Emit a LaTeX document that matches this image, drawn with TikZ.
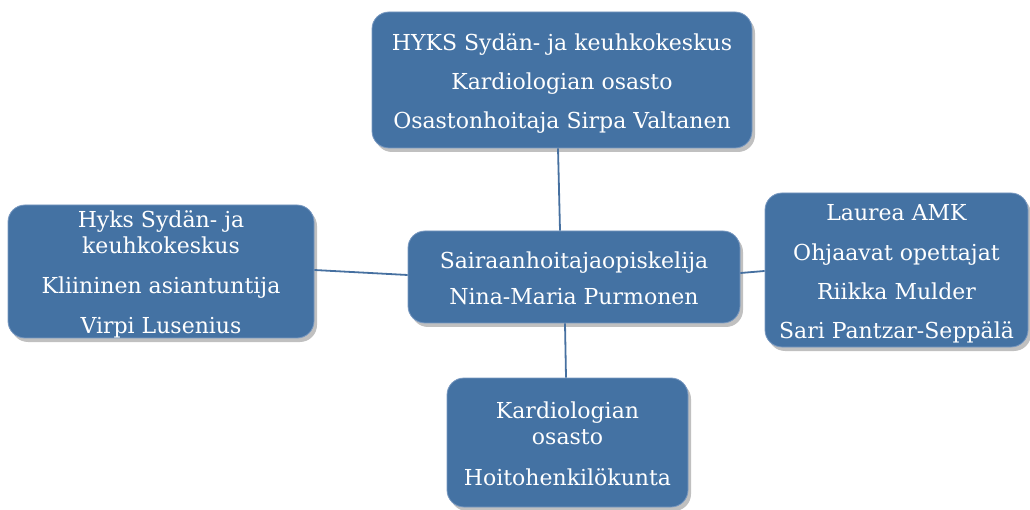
\documentclass[tikz,border=0pt]{standalone}
\usepackage{fontspec}
\setmainfont{DejaVu Serif}
\usetikzlibrary{shadows}
\definecolor{boxblue}{RGB}{68,114,163}
\definecolor{boxedge}{RGB}{120,152,192}
\definecolor{lineblue}{RGB}{70,112,160}
\newcommand\boxlines[1]{\raisebox{0pt}[\dimexpr\height+4pt\relax][\dimexpr\depth-4pt\relax]{\begin{tabular}{@{}c@{}}#1\end{tabular}}}
\tikzset{
  orgbox/.style={rectangle, rounded corners=17pt, fill=boxblue, draw=boxedge, line width=0.8pt,
    text=white, align=center, inner sep=0pt, font=\fontsize{22}{26}\selectfont,
    drop shadow={shadow xshift=3pt, shadow yshift=-4pt, fill=black!55, opacity=0.45}},
  link/.style={draw=lineblue, line width=1.8pt}
}
\begin{document}
\begin{tikzpicture}[x=1pt,y=-1pt]
\useasboundingbox (0,0) rectangle (1030,510);
\node[orgbox, minimum width=380pt, minimum height=136pt] (top) at (562,80)
  {\boxlines{HYKS Sydän- ja keuhkokeskus\\[13pt]Kardiologian osasto\\[13pt]Osastonhoitaja Sirpa Valtanen}};
\node[orgbox, minimum width=332pt, minimum height=92pt] (mid) at (574,277)
  {\boxlines{Sairaanhoitajaopiskelija\\[10pt]Nina-Maria Purmonen}};
\node[orgbox, minimum width=306pt, minimum height=133pt] (left) at (161,271.5)
  {\boxlines{Hyks Sydän- ja\\keuhkokeskus\\[14pt]Kliininen asiantuntija\\[14pt]Virpi Lusenius}};
\node[orgbox, minimum width=263pt, minimum height=154pt] (right) at (896.5,270)
  {\boxlines{Laurea AMK\\[14pt]Ohjaavat opettajat\\[13pt]Riikka Mulder\\[13pt]Sari Pantzar-Seppälä}};
\node[orgbox, minimum width=241pt, minimum height=129pt] (bot) at (567.5,442.5)
  {\boxlines{Kardiologian\\osasto\\[15pt]Hoitohenkilökunta}};
\draw[link] (top.south -| 558,0) -- (mid.north -| 560,0);
\draw[link] (left.east |- 0,270) -- (mid.west |- 0,275);
\draw[link] (mid.east |- 0,273) -- (right.west |- 0,271);
\draw[link] (mid.south -| 565,0) -- (bot.north -| 566,0);
\end{tikzpicture}
\end{document}
